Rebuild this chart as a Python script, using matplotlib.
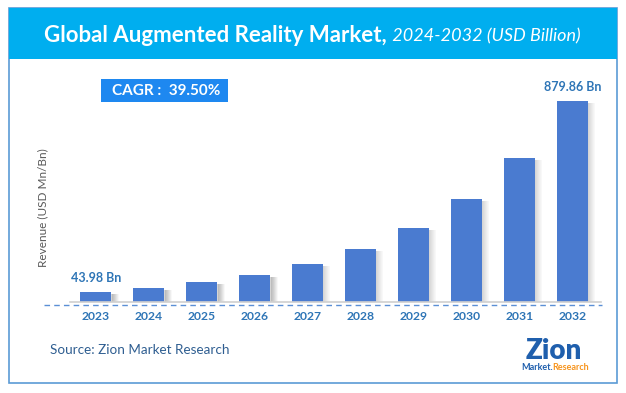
import matplotlib
matplotlib.use("Agg")
import matplotlib.pyplot as plt
from matplotlib.patches import Rectangle

plt.rcParams["font.family"] = ["Lato", "DejaVu Sans"]

# ── Data ──────────────────────────────────────────────────────────────────────
years = ["2023", "2024", "2025", "2026", "2027", "2028", "2029", "2030", "2031", "2032"]
revenue = [43.98, 61.4, 85.6, 119.4, 166.6, 232.4, 324.2, 452.3, 631.0, 879.86]
labelled = {0: "43.98 Bn", 9: "879.86 Bn"}
cagr_text = "CAGR :  39.50%"
title_bold = "Global Augmented Reality Market,"
title_italic = " 2024-2032 (USD Billion)"
source_text = "Source: Zion Market Research"

W, H = 626, 393
BAR = "#4A7BD0"
LABEL = "#2E75B6"

fig = plt.figure(figsize=(W / 100, H / 100), dpi=100)

# background layer in pixel coordinates (y from top)
bg = fig.add_axes([0, 0, 1, 1])
bg.set_xlim(0, W)
bg.set_ylim(H, 0)
bg.axis("off")

bg.add_patch(Rectangle((9, 8), 608, 375, facecolor="white", edgecolor="#5B9BD5", lw=1.2))
bg.add_patch(Rectangle((9, 8), 608, 51, facecolor="#00AEEF", edgecolor="none"))

# title: bold part + italic part right after it
fig.canvas.draw()
renderer = fig.canvas.get_renderer()
t1 = bg.text(44, 35, title_bold, color="white", fontsize=16, fontweight="bold",
             va="center", ha="left")
bb = t1.get_window_extent(renderer=renderer)
bg.text(bb.x1 + 1, 36, title_italic, color="white", fontsize=13, style="italic",
        va="center", ha="left")

# CAGR box
bg.add_patch(Rectangle((101, 79), 127, 23, facecolor="#1E88F0", edgecolor="none"))
bg.text(166, 91, cagr_text, color="white", fontsize=11, fontweight="bold",
        ha="center", va="center")

# y-axis label
bg.text(43, 208, "Revenue (USD Mn/Bn)", color="#595959", fontsize=8.5,
        rotation=90, ha="center", va="center")

# source
bg.text(50, 350, source_text, color="#2F5E91", fontsize=9.7, ha="left", va="center")

# logo
bg.text(554, 351, "Zion", color="#1F5FAD", fontsize=20, fontweight="heavy",
        ha="center", va="center")
t_m = bg.text(521, 367, "Market.", color="#1F5FAD", fontsize=6.5, fontweight="bold",
              ha="left", va="center")
bm = t_m.get_window_extent(renderer=renderer)
bg.text(bm.x1, 367, "Research", color="#F7941D", fontsize=6.5, fontweight="bold",
        ha="left", va="center")

# ── Bar chart ─────────────────────────────────────────────────────────────────
px_per_val = 201 / revenue[-1]
ax = fig.add_axes([44 / W, (H - 305) / H, 558 / W, 235 / H])
ax.set_xlim(-0.98, 9.55)
ax.set_ylim(-3 / px_per_val, 232 / px_per_val)
ax.axis("off")

x = list(range(len(years)))
width = 0.585
unit_px = 53.0

# soft shadow to the right of each bar
for k in range(7):
    off = (k + 0.5) / unit_px
    ax.bar([i + width / 2 + off for i in x], [v - 2 / px_per_val for v in revenue],
           width=1.2 / unit_px, color="#7F7F7F", alpha=0.32 * (1 - k / 7),
           align="center", zorder=1)

ax.bar(x, revenue, width=width, color=BAR, zorder=2)

# baselines
ax.plot([-0.49, 9.53], [0, 0], color="#D0D0D0", lw=1.2, zorder=3)
ax.plot([-0.98, 9.55], [-3 / px_per_val] * 2, color="#5B8FD6", lw=1.0,
        ls=(0, (4, 3)), zorder=3, clip_on=False)

for i, lab in labelled.items():
    ax.text(x[i], revenue[i] + 8 / px_per_val, lab, color=LABEL, fontsize=9,
            fontweight="bold", ha="center", va="bottom")

for i, yr in enumerate(years):
    bg.text(96 + i * unit_px, 317, yr, color=LABEL, fontsize=8.7, fontweight="bold",
            ha="center", va="center")

fig.savefig("out.png", dpi=100)
